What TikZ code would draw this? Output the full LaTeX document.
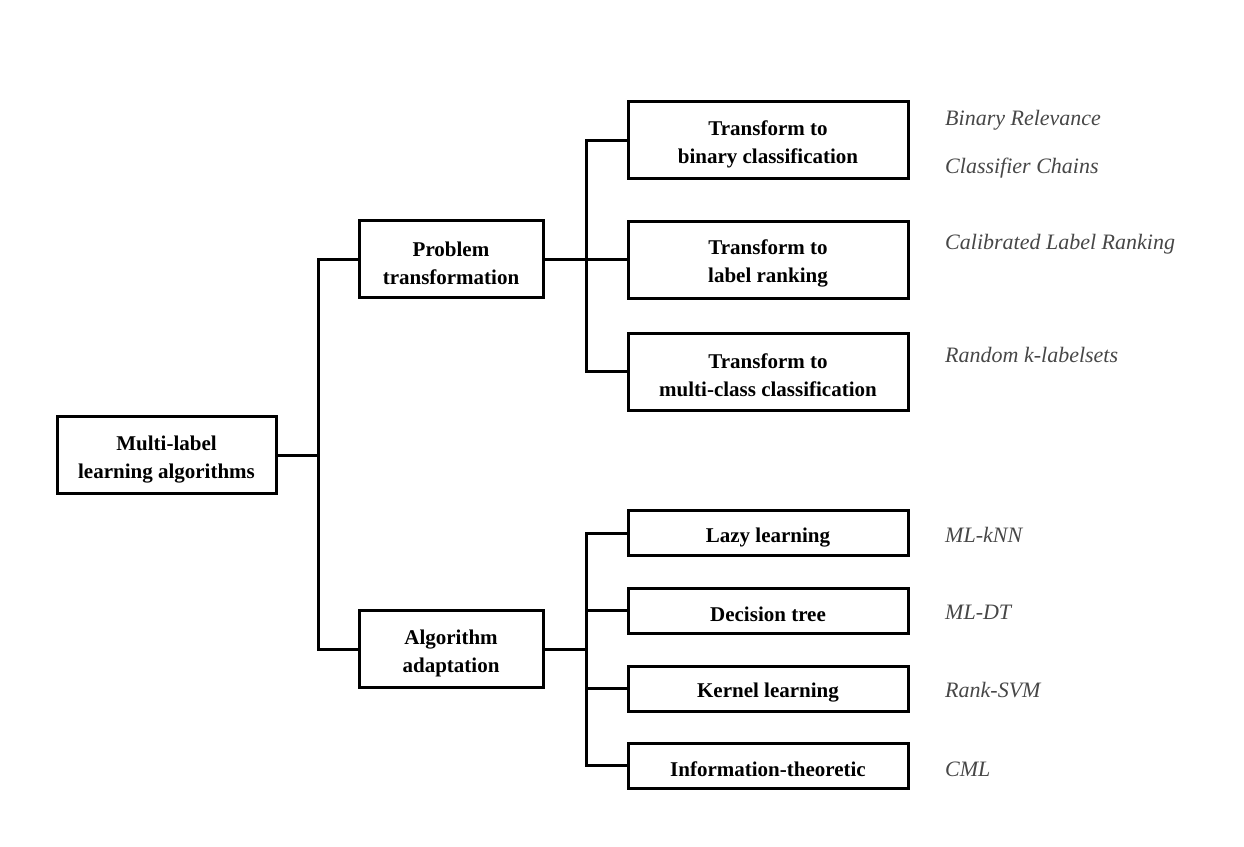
\documentclass[tikz,border=0pt]{standalone}
\usepackage{fontspec}
\setmainfont{Liberation Serif}
\newcommand{\tallstrut}{\rule{0pt}{23pt}}
\begin{document}
\begin{tikzpicture}[x=1pt,y=-1pt,
  box/.style={draw=black, line width=3pt, minimum height=#1, inner sep=0pt, align=center, font=\fontsize{21}{28}\selectfont\bfseries},
  box/.default=77pt,
  lbl/.style={anchor=west, inner sep=0pt, text=black!72, font=\fontsize{22}{24}\selectfont\itshape},
  conn/.style={line width=3pt, line cap=rect}]
\useasboundingbox (0,0) rectangle (1244,846);
% boxes
\node[box, minimum width=219pt] (root) at (166.5,455) {\tallstrut Multi-label\\learning algorithms};
\node[box, minimum width=184pt] (pt) at (451,259) {\tallstrut Problem\\transformation};
\node[box, minimum width=184pt] (aa) at (451,649) {\tallstrut Algorithm\\adaptation};
\node[box, minimum width=280pt] (tb) at (768,140) {\tallstrut Transform to\\binary classification};
\node[box, minimum width=280pt] (tl) at (768,259.5) {\tallstrut Transform to\\label ranking};
\node[box, minimum width=280pt] (tm) at (768,371.5) {\tallstrut Transform to\\multi-class classification};
\node[box=45pt, minimum width=280pt] (ll) at (768,533) {\tallstrut Lazy learning};
\node[box=45pt, minimum width=280pt] (dt) at (768,610.5) {\tallstrut Decision tree};
\node[box=45pt, minimum width=280pt] (kl) at (768,688.5) {\tallstrut Kernel learning};
\node[box=45pt, minimum width=280pt] (it) at (768,765.5) {\tallstrut Information-theoretic};
% junctions
\coordinate (j1) at (318,455);
\coordinate (j2) at (586,259);
\coordinate (j3) at (586,649);
% connectors
\draw[conn] (root.east) -- (j1);
\draw[conn] (pt.west) -| (j1);
\draw[conn] (aa.west) -| (j1);
\draw[conn] (pt.east) -- (j2);
\draw[conn] (tb.west) -| (j2);
\draw[conn] (tl.west) -| (j2);
\draw[conn] (tm.west) -| (j2);
\draw[conn] (aa.east) -- (j3);
\draw[conn] (ll.west) -| (j3);
\draw[conn] (dt.west) -| (j3);
\draw[conn] (kl.west) -| (j3);
\draw[conn] (it.west) -| (j3);
% method labels
\node[lbl] (m1) at (945,120) {Binary Relevance};
\node[lbl] (m2) at (945,168) {Classifier Chains};
\node[lbl] (m3) at (945,244) {Calibrated Label Ranking};
\node[lbl] (m4) at (945,355) {Random k-labelsets};
\node[lbl] (m5) at (945,535) {ML-kNN};
\node[lbl] (m6) at (945,612) {ML-DT};
\node[lbl] (m7) at (945,690) {Rank-SVM};
\node[lbl] (m8) at (945,769) {CML};
\end{tikzpicture}
\end{document}
